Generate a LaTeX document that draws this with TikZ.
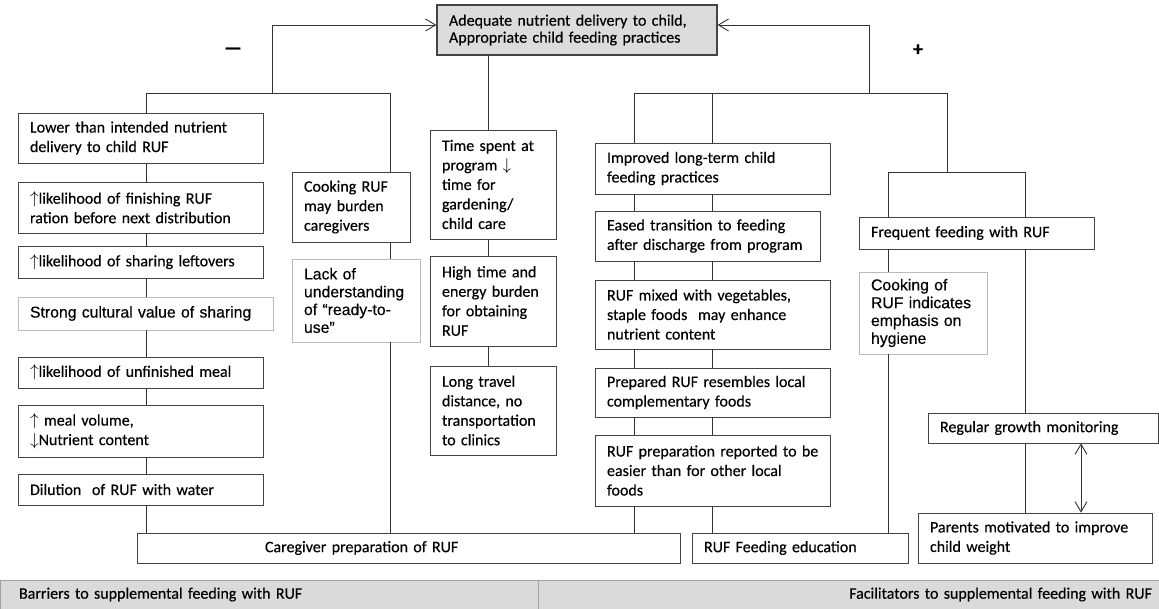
\documentclass[tikz,border=0pt]{standalone}
\usepackage{fontspec}
\setmainfont{Carlito}[FakeBold=0.35]
\newfontfamily\arialf{Liberation Sans}[FakeBold=0.35]
\usetikzlibrary{arrows.meta}
\definecolor{linec}{HTML}{333333}
\definecolor{boxc}{HTML}{444444}
\definecolor{lightc}{HTML}{BBBBBB}
\definecolor{topfill}{HTML}{DCDCDC}
\definecolor{bandfill}{HTML}{DADADA}
\definecolor{bandline}{HTML}{A0A0A0}
\tikzset{
  box/.style={draw=boxc, line width=0.9pt, fill=white, inner xsep=12pt, inner ysep=0pt,
    align=left, font=\fontsize{16}{19.5}\selectfont, text=black},
  lightbox/.style={draw=lightc, font=\arialf\fontsize{15.8}{17.8}\selectfont},
  band/.style={fill=bandfill, draw=bandline, line width=0.8pt},
  conn/.style={draw=linec, line width=0.9pt},
  arr/.style={conn, -{Straight Barb[length=10pt,width=12pt]}},
  darr/.style={conn, {Straight Barb[length=10pt,width=12pt]}-{Straight Barb[length=10pt,width=12pt]}},
  sign/.style={font=\bfseries\fontsize{20}{20}\selectfont, text=black},
}
\newcommand{\mybox}[7][]{%
  \pgfmathsetmacro\bw{#5-#3}%
  \pgfmathsetmacro\bh{#6-#4}%
  \pgfmathsetmacro\tw{#5-#3-24}%
  \node[box,#1,minimum width=\bw pt,minimum height=\bh pt,text width=\tw pt] (#2) at ({(#3+#5)/2},{(#4+#6)/2}) {#7};%
}
\begin{document}
\begin{tikzpicture}[x=1pt,y=-1pt]
\useasboundingbox (0,0) rectangle (1159,609);

% top box
\mybox[fill=topfill, line width=1.3pt, font=\fontsize{16}{17}\selectfont]{top}{437}{5}{717}{55}{Adequate nutrient delivery to child,\\Appropriate child feeding practices}

% left column
\mybox{b1}{18}{113}{263}{163}{Lower than intended nutrient\\delivery to child RUF}
\mybox{b2}{18}{182}{263}{233}{$\uparrow$likelihood of finishing RUF\\\mbox{ration before next distribution}}
\mybox{b3}{18}{246}{263}{278}{$\uparrow$likelihood of sharing leftovers}
\mybox[lightbox]{b4}{18}{297}{273}{330}{Strong cultural value of sharing}
\mybox{b5}{18}{357}{263}{388}{$\uparrow$likelihood of unfinished meal}
\mybox{b6}{18}{405}{263}{457}{$\uparrow$\ meal volume,\\$\downarrow$Nutrient content}
\mybox{b7}{18}{474}{263}{505}{Dilution\ \ of RUF with water}
\mybox{cg}{137}{533}{680}{563}{\hspace*{116pt}Caregiver preparation of RUF}

% second column
\mybox{ck}{292}{172}{410}{242}{Cooking RUF\\may burden\\caregivers}
\mybox[lightbox]{lk}{292}{259}{420}{342}{Lack of\\\mbox{understanding}\\of “ready-to-\\use”}

% middle column
\mybox{tm}{430}{130}{556}{239}{Time spent at\\program $\downarrow$\\time for\\gardening/\\child care}
\mybox{hi}{430}{256}{556}{346}{High time and\\energy burden\\for obtaining\\RUF}
\mybox{lt}{430}{366}{556}{455}{Long travel\\distance, no\\\mbox{transportation}\\to clinics}

% right columns
\mybox{im}{595}{143}{830}{194}{Improved long-term child\\feeding practices}
\mybox{ea}{595}{211}{820}{261}{Eased transition to feeding\\\mbox{after discharge from program}}
\mybox{mx}{595}{280}{830}{349}{RUF mixed with vegetables,\\staple foods\ \ may enhance\\nutrient content}
\mybox{pr}{595}{368}{830}{417}{\mbox{Prepared RUF resembles local}\\complementary foods}
\mybox{es}{595}{435}{830}{506}{\mbox{RUF preparation reported to be}\\easier than for other local\\foods}
\mybox{ed}{692}{533}{908}{563}{RUF Feeding education}
\mybox{fq}{859}{217}{1094}{249}{Frequent feeding with RUF}
\mybox[lightbox]{co}{859}{272}{987}{354}{Cooking of\\\mbox{RUF indicates}\\emphasis on\\hygiene}
\mybox{rg}{928}{413}{1158}{443}{Regular growth monitoring}
\mybox{pm}{918}{513}{1152}{563}{\mbox{Parents motivated to improve}\\child weight}

% bottom band
\mybox[band]{bl}{0}{580}{538}{609}{\hspace*{7pt}Barriers to supplemental feeding with RUF}
\mybox[band, align=right]{br}{538}{580}{1159}{609}{Facilitators to supplemental feeding with RUF\hspace*{-5pt}}

% signs
\node[sign] (minus) at (233,51) {—};
\node[sign] (plus) at (918,50) {+};

% helper coordinates
\coordinate (xl) at (146,0);
\coordinate (xc) at (390,0);
\coordinate (xm) at (488,0);
\coordinate (xa) at (634,0);
\coordinate (xb) at (712,0);
\coordinate (xf) at (888,0);
\coordinate (xg) at (1025,0);
\coordinate (xd) at (1081,0);
\coordinate (aL) at (272,25);
\coordinate (jL) at (272,93);
\coordinate (hL1) at (146,93);
\coordinate (hL2) at (390,93);
\coordinate (aR) at (869,25);
\coordinate (jR) at (869,93);
\coordinate (hR1) at (634,93);
\coordinate (hR2) at (947,93);
\coordinate (jF) at (947,172);
\coordinate (hF1) at (888,172);
\coordinate (hF2) at (1025,172);

% left tree
\draw[arr] (jL) -- (aL) -- (aL -| top.west);
\draw[conn] (hL1) -- (hL2);
\draw[conn] (hL1) -- (xl |- b1.north);
\foreach \a/\b in {b1/b2,b2/b3,b3/b4,b4/b5,b5/b6,b6/b7,b7/cg}
  \draw[conn] (xl |- \a.south) -- (xl |- \b.north);
\draw[conn] (hL2) -- (xc |- ck.north);
\foreach \a/\b in {ck/lk,lk/cg}
  \draw[conn] (xc |- \a.south) -- (xc |- \b.north);

% middle
\draw[conn] (xm |- top.south) -- (xm |- tm.north);
\foreach \a/\b in {tm/hi,hi/lt}
  \draw[conn] (xm |- \a.south) -- (xm |- \b.north);

% right tree
\draw[arr] (jR) -- (aR) -- (aR -| top.east);
\draw[conn] (hR1) -- (hR2) -- (jF);
\draw[conn] (hF1) -- (hF2);
\draw[conn] (hR1) -- (xa |- im.north);
\draw[conn] (xb |- hR1) -- (xb |- im.north);
\foreach \a/\b in {im/ea,ea/mx,mx/pr,pr/es,es/cg}
  \draw[conn] (xa |- \a.south) -- (xa |- \b.north);
\foreach \a/\b in {im/ea,ea/mx,mx/pr,pr/es,es/ed}
  \draw[conn] (xb |- \a.south) -- (xb |- \b.north);
\draw[conn] (hF1) -- (xf |- fq.north);
\foreach \a/\b in {fq/co,co/ed}
  \draw[conn] (xf |- \a.south) -- (xf |- \b.north);
\draw[conn] (hF2) -- (xg |- fq.north);
\foreach \a/\b in {fq/rg,rg/pm}
  \draw[conn] (xg |- \a.south) -- (xg |- \b.north);
\draw[darr] (xd |- rg.south) -- (xd |- pm.north);
\end{tikzpicture}
\end{document}
